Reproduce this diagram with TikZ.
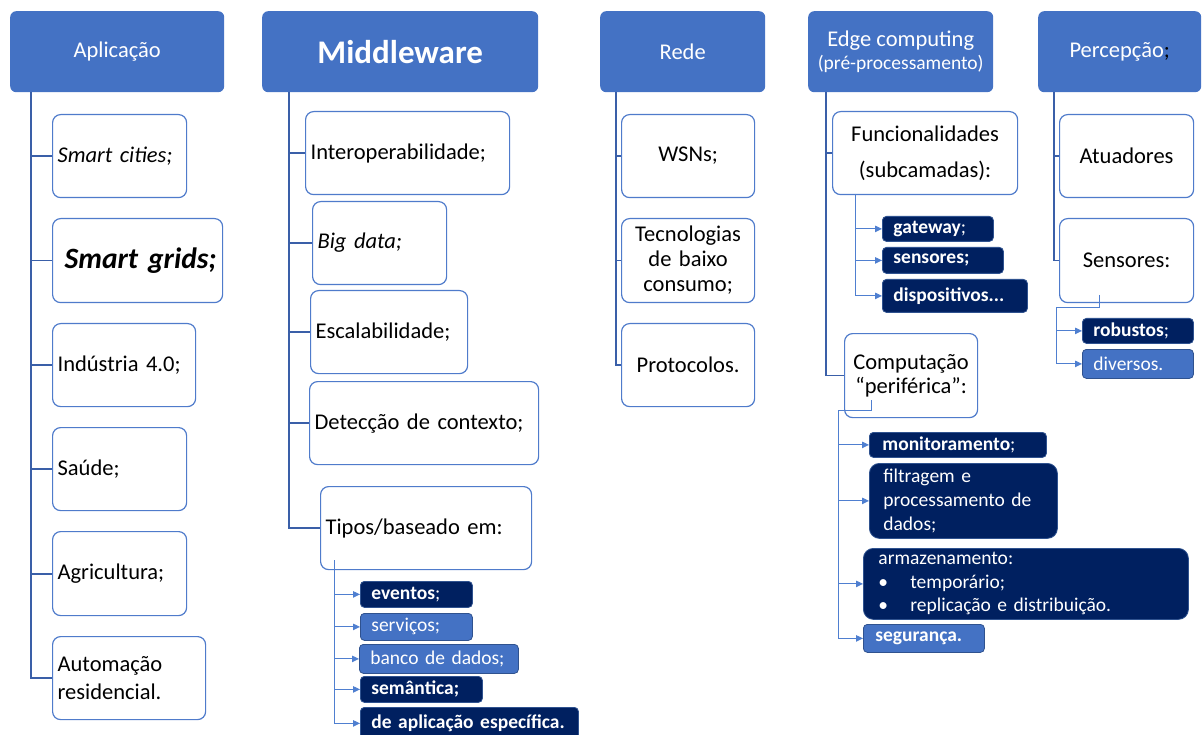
\documentclass[tikz,border=0pt]{standalone}
\usepackage{fontspec}
\setmainfont{Carlito}
\usetikzlibrary{arrows.meta}
\definecolor{hd}{HTML}{4472C4}
\definecolor{bc}{HTML}{4F7BCB}
\definecolor{trk}{HTML}{3A5FA8}
\definecolor{sl}{HTML}{4F7FD0}
\definecolor{navy}{HTML}{002060}
\definecolor{dkb}{HTML}{2F528F}
\newcommand\mainsz{\fontsize{22.5}{27}\selectfont}
\newcommand\subsz{\fontsize{19.5}{24}\selectfont}
\begin{document}
\begin{tikzpicture}[x=1pt,y=-1pt,
  head/.style={fill=hd, rounded corners=6pt, text=white, minimum height=81pt,
    anchor=north west, align=center, font=\mainsz, inner sep=0pt},
  wbox/.style={draw=bc, line width=1.2pt, fill=white, rounded corners=8pt,
    inner xsep=5pt, inner ysep=0pt, align=left, font=\mainsz, anchor=north west,
    minimum height=83pt},
  dbox/.style={fill=navy, draw=dkb, line width=0.8pt, rounded corners=4pt,
    text=white, inner xsep=11pt, inner ysep=0pt, align=left, font=\subsz,
    anchor=north west},
  lbox/.style={dbox, fill=hd},
  trunk/.style={draw=trk, line width=1.8pt},
  subarr/.style={draw=sl, line width=0.9pt, -{Triangle[length=7pt,width=6.5pt]}},
]
\clip (0,0) rectangle (1202,735);

% column headers
\node[head, minimum width=214pt] (hA) at (10,11) {Aplicação};
\node[head, minimum width=276pt, font=\fontsize{33}{40}\selectfont\bfseries] (hM) at (262,11) {Middleware};
\node[head, minimum width=165pt] (hR) at (600,11) {Rede};
\node[head, minimum width=185pt] (hE) at (808,11) {Edge computing\\[-4pt]{\subsz(pré-processamento)}};
\node[head, minimum width=163pt] (hP) at (1038,11) {Percepção\textcolor{black}{;}};

% Aplicação
\node[wbox, text width=124pt] (a1) at (52,114) {\textit{Smart cities;}};
\node[wbox, text width=160pt, minimum height=84pt, font=\fontsize{29.5}{34}\selectfont\bfseries\itshape] (a2) at (52,218) {\mbox{\hspace*{7pt}Smart grids;}};
\node[wbox, text width=133pt] (a3) at (52,323) {Indústria 4.0;};
\node[wbox, text width=124pt] (a4) at (52,427) {Saúde;};
\node[wbox, text width=124pt, minimum height=84pt] (a5) at (52,531) {Agricultura;};
\node[wbox, text width=143pt, font=\fontsize{22.5}{28}\selectfont] (a6) at (52,636) {Automação\\residencial.};

% Middleware
\node[wbox, text width=194pt] (m1) at (305,111) {Interoperabilidade;};
\node[wbox, text width=124pt] (m2) at (312,201) {\textit{Big data;}};
\node[wbox, text width=147pt] (m3) at (310,290) {Escalabilidade;};
\node[wbox, text width=219pt] (m4) at (309,381) {Detecção de contexto;};
\node[wbox, text width=201pt] (m5) at (320,486) {Tipos/baseado em:};

\node[dbox, text width=90pt, minimum height=26pt] (s1) at (360,581) {\textbf{eventos};};
\node[lbox, text width=90pt, minimum height=27pt] (s2) at (360,613) {serviços;};
\node[lbox, text width=137pt, minimum height=29pt, inner xsep=11pt] (s3) at (359,644) {banco de dados;};
\node[dbox, text width=100pt, minimum height=26pt] (s4) at (360,676) {\textbf{semântica;}};
\node[dbox, text width=196pt, minimum height=32pt] (s5) at (360,707) {\textbf{de aplicação específica.}};

% Rede
\node[wbox, text width=123pt, align=center] (r1) at (621,114) {WSNs;};
\node[wbox, text width=123pt, align=center, minimum height=84pt, font=\fontsize{22.5}{25}\selectfont] (r2) at (621,218) {Tecnologias\\de baixo\\consumo;};
\node[wbox, text width=123pt, align=center] (r3) at (621,323) {Protocolos.};

% Edge computing
\node[wbox, text width=175pt, align=center] (e1) at (832,111) {Funcionalidades\\[9pt](subcamadas):};
\node[dbox, text width=89pt, minimum height=25pt] (g1) at (882,216) {\textbf{gateway};};
\node[dbox, text width=99pt, minimum height=26pt] (g2) at (882,247) {\textbf{sensores;}};
\node[dbox, text width=123pt, minimum height=33pt] (g3) at (882,279) {\textbf{dispositivos...}};
\node[wbox, text width=123pt, align=center, minimum height=84pt, font=\fontsize{22.5}{24}\selectfont] (e2) at (844,333) {Computação\\“periférica”:};
\node[dbox, text width=151pt, minimum height=25pt, inner xsep=13pt] (c1) at (869,432) {\textbf{monitoramento};};
\node[dbox, text width=160pt, minimum height=75pt, inner xsep=14pt, rounded corners=10pt] (c2) at (869,463) {filtragem e\\processamento de\\dados;};
\node[dbox, text width=295pt, minimum height=71pt, inner xsep=15pt, rounded corners=10pt, font=\fontsize{19.5}{23.5}\selectfont] (c3) at (863,548) {armazenamento:\\\makebox[32pt][l]{\textbullet}temporário;\\\makebox[32pt][l]{\textbullet}replicação e distribuição.};
\node[lbox, text width=97pt, minimum height=28pt, inner xsep=12pt] (c4) at (863,624) {\textbf{segurança.}};

% Percepção
\node[wbox, text width=124pt, align=center] (p1) at (1059,114) {Atuadores};
\node[wbox, text width=124pt, align=center, minimum height=84pt] (p2) at (1059,218) {Sensores:};
\node[dbox, text width=89pt, minimum height=25pt] (q1) at (1082,318) {\textbf{robustos};};
\node[lbox, text width=89pt, minimum height=29pt] (q2) at (1082,349) {diversos.};

% trunks from the headers
\coordinate (tA) at (31,92);
\coordinate (tM) at (289,92);
\coordinate (tR) at (616,92);
\coordinate (tE) at (826,92);
\coordinate (tP) at (1054,92);
\draw[trunk] (tA) |- (a6.west);
\foreach \n in {a1,a2,a3,a4,a5} \draw[trunk] (tA |- \n.west) -- (\n.west);
\draw[trunk] (tM) |- (m5.west);
\foreach \n in {m1,m2,m3,m4} \draw[trunk] (tM |- \n.west) -- (\n.west);
\draw[trunk, line width=1.3pt] (tR) |- (r3.west);
\foreach \n in {r1,r2} \draw[trunk, line width=1.3pt] (tR |- \n.west) -- (\n.west);
\draw[trunk, line width=1.6pt] (tE) |- (e2.west);
\draw[trunk, line width=1.6pt] (tE |- e1.west) -- (e1.west);
\draw[trunk, line width=1.6pt] (tP) |- (p2.west);
\draw[trunk, line width=1.6pt] (tP |- p1.west) -- (p1.west);

% arrows to the sub-items
\coordinate (uM) at (334,560);
\draw[subarr] (uM) |- (s5.west);
\foreach \n in {s1,s2,s3,s4} \draw[subarr] (uM |- \n.west) -- (\n.west);

\coordinate (uF) at (855,194);
\draw[subarr] (uF) |- (g3.west);
\foreach \n in {g1,g2} \draw[subarr] (uF |- \n.west) -- (\n.west);

\coordinate (uC) at (871,400);
\coordinate (uCk) at (838,410);
\draw[subarr] (uC) |- (uCk) |- (c4.west);
\foreach \n in {c1,c2,c3} \draw[subarr] (uCk |- \n.west) -- (\n.west);

\coordinate (uS) at (1099,295);
\coordinate (uSk) at (1056,307);
\draw[subarr] (uS) |- (uSk) |- (q2.west);
\draw[subarr] (uSk |- q1.west) -- (q1.west);
\end{tikzpicture}
\end{document}
